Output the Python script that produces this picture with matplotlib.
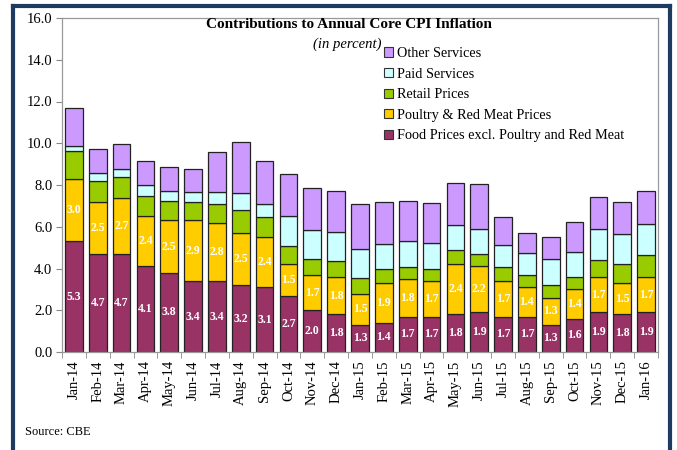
import matplotlib.pyplot as plt
import matplotlib.lines as mlines
import matplotlib.patches as mpatches
import numpy as np

plt.rcParams['font.family'] = ['Liberation Serif', 'DejaVu Serif']

months = ["Jan-14", "Feb-14", "Mar-14", "Apr-14", "May-14", "Jun-14", "Jul-14",
          "Aug-14", "Sep-14", "Oct-14", "Nov-14", "Dec-14", "Jan-15", "Feb-15",
          "Mar-15", "Apr-15", "May-15", "Jun-15", "Jul-15", "Aug-15", "Sep-15",
          "Oct-15", "Nov-15", "Dec-15", "Jan-16"]

# contributions (percentage points)
food = [5.3, 4.7, 4.7, 4.1, 3.8, 3.4, 3.4, 3.2, 3.1, 2.7, 2.0, 1.8, 1.3, 1.4,
        1.7, 1.7, 1.8, 1.9, 1.7, 1.7, 1.3, 1.6, 1.9, 1.8, 1.9]
poultry = [3.0, 2.5, 2.7, 2.4, 2.5, 2.9, 2.8, 2.5, 2.4, 1.5, 1.7, 1.8, 1.5, 1.9,
           1.8, 1.7, 2.4, 2.2, 1.7, 1.4, 1.3, 1.4, 1.7, 1.5, 1.7]
retail = [1.35, 1.0, 1.0, 0.95, 0.92, 0.9, 0.9, 1.1, 0.95, 0.9, 0.75, 0.75, 0.75, 0.67,
          0.55, 0.6, 0.67, 0.6, 0.67, 0.6, 0.62, 0.6, 0.8, 0.9, 1.05]
paid = [0.24, 0.37, 0.39, 0.53, 0.49, 0.48, 0.56, 0.83, 0.62, 1.4, 1.39, 1.42, 1.4, 1.22,
        1.25, 1.2, 1.2, 1.18, 1.05, 1.02, 1.22, 1.2, 1.47, 1.44, 1.47]
other = [1.8, 1.15, 1.17, 1.19, 1.16, 1.07, 1.91, 2.45, 2.06, 2.03, 2.0, 1.95, 2.14, 1.98,
         1.93, 1.96, 2.03, 2.17, 1.36, 0.96, 1.09, 1.42, 1.55, 1.56, 1.6]

series = [
    ("Food Prices excl. Poultry and Red Meat", food, "#993366"),
    ("Poultry & Red Meat Prices", poultry, "#FFCC00"),
    ("Retail Prices", retail, "#99CC00"),
    ("Paid Services", paid, "#CCFFFF"),
    ("Other Services", other, "#CC99FF"),
]

fig = plt.figure(figsize=(6.77, 4.5), dpi=100)
ax = fig.add_axes([62 / 677, 1 - 352 / 450, (658 - 62) / 677, (352 - 18) / 450])

x = np.arange(len(months))
bottom = np.zeros(len(months))
handles = []
for name, vals, col in series:
    vals = np.array(vals)
    ax.bar(x, vals, 0.74, bottom=bottom, color=col, edgecolor="#222222", linewidth=0.9)
    handles.append(mpatches.Patch(facecolor=col, edgecolor="#333333", linewidth=0.8, label=name))
    bottom = bottom + vals

# white data labels on the two food segments
for i in x:
    ax.text(i, food[i] / 2, f"{food[i]:.1f}", color="white", fontweight="bold",
            ha="center", va="center", fontsize=8.5)
    ax.text(i, food[i] + poultry[i] / 2, f"{poultry[i]:.1f}", color="white",
            fontweight="bold", ha="center", va="center", fontsize=8.5)

ax.set_xlim(-0.5, len(months) - 0.5)
ax.set_ylim(0, 16)
ax.set_yticks(np.arange(0, 17, 2))
ax.set_yticklabels([f"{v:.1f}" for v in np.arange(0, 17, 2)], fontsize=10.5)
ax.set_xticks(x)
ax.set_xticklabels(months, rotation=90, fontsize=10.5)
ax.tick_params(axis="x", length=0, pad=6)
ax.set_xticks(np.arange(-0.5, len(months), 1), minor=True)
ax.tick_params(axis="x", which="minor", length=4, color="#888888")
ax.tick_params(axis="y", length=4, color="#888888", pad=3)
for s in ax.spines.values():
    s.set_color("#999999")
    s.set_linewidth(0.9)

fig.text(349 / 677, 1 - 25 / 450, "Contributions to Annual Core CPI Inflation",
         ha="center", va="center", fontsize=11, fontweight="bold")
fig.text(347 / 677, 1 - 44 / 450, "(in percent)", ha="center", va="center",
         fontsize=10.5, style="italic")

leg = ax.legend(handles=handles[::-1], loc="upper left", bbox_to_anchor=(384 / 677, 1 - 47 / 450),
                bbox_transform=fig.transFigure, frameon=False, fontsize=10.25,
                handlelength=0.6, handleheight=0.6, handletextpad=0.3, labelspacing=0.53,
                borderpad=0, borderaxespad=0)

fig.text(25 / 677, 1 - 432 / 450, "Source: CBE", fontsize=9, va="center")

# dark frame round the whole picture
navy = "#1F3A60"
fig.add_artist(mlines.Line2D([13 / 677, 13 / 677], [0, 1 - 6 / 450], color=navy, lw=3))
fig.add_artist(mlines.Line2D([13 / 677, 670 / 677], [1 - 6 / 450, 1 - 6 / 450], color=navy, lw=3))
fig.add_artist(mlines.Line2D([670 / 677, 670 / 677], [0, 1 - 6 / 450], color=navy, lw=3))

fig.savefig("out.png", dpi=100)
